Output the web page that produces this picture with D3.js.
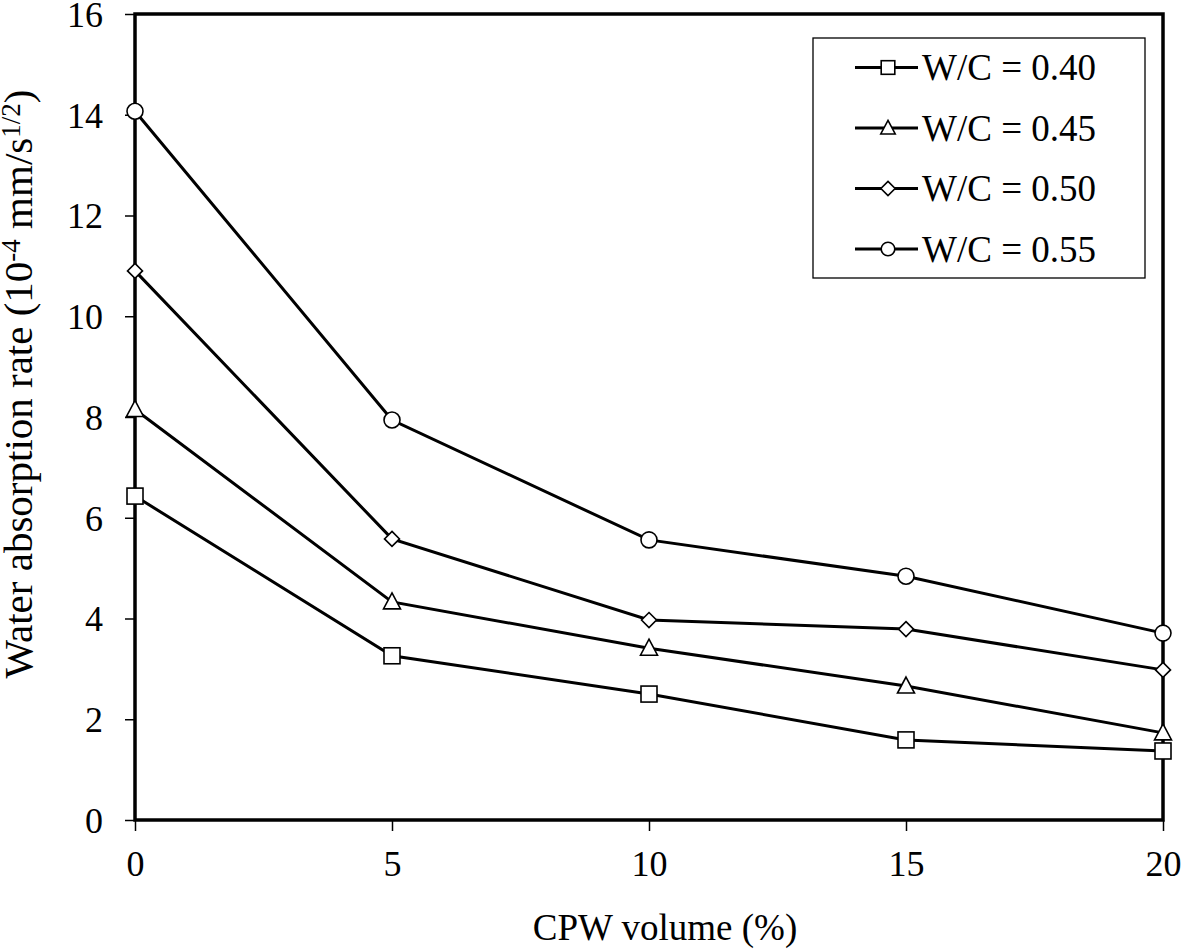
<!DOCTYPE html>
<html><head><meta charset="utf-8">
<script src="https://cdn.jsdelivr.net/npm/d3@7"></script>
<style>body{margin:0;background:#fff}svg{display:block}text{font-family:"Liberation Serif","Times New Roman",serif;fill:#000}</style>
</head><body>
<svg id="c" width="1181" height="949"></svg>
<script>
const cpwVolume = [0, 5, 10, 15, 20];
const seriesNames = ["W/C = 0.40", "W/C = 0.45", "W/C = 0.50", "W/C = 0.55"];
const wc040 = [6.43, 3.26, 2.50, 1.59, 1.37];
const wc045 = [8.15, 4.33, 3.41, 2.66, 1.73];
const wc050 = [10.90, 5.58, 3.97, 3.79, 2.98];
const wc055 = [14.07, 7.94, 5.56, 4.84, 3.71];
const markers = ["square", "triangle", "diamond", "circle"];
const xTicks = [0, 5, 10, 15, 20];
const yTicks = [0, 2, 4, 6, 8, 10, 12, 14, 16];

const series = [wc040, wc045, wc050, wc055].map((v, i) => ({name: seriesNames[i], values: v, marker: markers[i]}));

const svg = d3.select("#c");
const L = 135, R = 1163, T = 14, B = 820;
const x = d3.scaleLinear().domain([0, 20]).range([L, R]);
const y = d3.scaleLinear().domain([0, 16]).range([B, T]);

// axes ticks
const xAxis = svg.append("g").attr("transform", `translate(0,${B})`)
  .call(d3.axisBottom(x).tickValues(xTicks).tickSize(11).tickPadding(19));
const yAxis = svg.append("g").attr("transform", `translate(${L},0)`)
  .call(d3.axisLeft(y).tickValues(yTicks).tickSize(10).tickPadding(22));
[xAxis, yAxis].forEach(a => {
  a.attr("font-family", '"Liberation Serif", serif');
  a.select(".domain").remove();
  a.selectAll("line").attr("stroke", "#000").attr("stroke-width", 1.5);
  a.selectAll("text").style("font-size", "36px").style("font-family", '"Liberation Serif", serif').attr("fill", "#000");
});
yAxis.selectAll("text").attr("dy", "0.34em");

// frame
svg.append("rect").attr("x", L).attr("y", T).attr("width", R - L).attr("height", B - T)
  .attr("fill", "none").attr("stroke", "#000").attr("stroke-width", 3.5);

const line = d3.line().x((d, i) => x(cpwVolume[i])).y(d => y(d));

function drawMarker(g, type, cx, cy, s) {
  s = s || 1;
  if (type === "square") {
    g.append("rect").attr("x", cx - 8 * s).attr("y", cy - 8 * s).attr("width", 16 * s).attr("height", 16 * s)
      .attr("fill", "#fff").attr("stroke", "#000").attr("stroke-width", 1.6);
  } else if (type === "circle") {
    g.append("circle").attr("cx", cx).attr("cy", cy).attr("r", 8 * s)
      .attr("fill", "#fff").attr("stroke", "#000").attr("stroke-width", 1.6);
  } else if (type === "triangle") {
    g.append("path").attr("d", `M${cx},${cy - 9 * s}L${cx + 8.5 * s},${cy + 7 * s}L${cx - 8.5 * s},${cy + 7 * s}Z`)
      .attr("fill", "#fff").attr("stroke", "#000").attr("stroke-width", 1.6);
  } else if (type === "diamond") {
    g.append("path").attr("d", `M${cx},${cy - 7.5 * s}L${cx + 7.5 * s},${cy}L${cx},${cy + 7.5 * s}L${cx - 7.5 * s},${cy}Z`)
      .attr("fill", "#fff").attr("stroke", "#000").attr("stroke-width", 1.6);
  }
}

series.forEach(s => {
  svg.append("path").datum(s.values).attr("d", line).attr("fill", "none")
    .attr("stroke", "#000").attr("stroke-width", 3);
  const g = svg.append("g");
  s.values.forEach((v, i) => drawMarker(g, s.marker, x(cpwVolume[i]), y(v)));
});

// legend
const lg = svg.append("g");
lg.append("rect").attr("x", 813).attr("y", 38).attr("width", 332).attr("height", 240)
  .attr("fill", "#fff").attr("stroke", "#000").attr("stroke-width", 1.3);
series.forEach((s, i) => {
  const ly = 67.5 + i * 60.5;
  lg.append("line").attr("x1", 855).attr("x2", 918).attr("y1", ly).attr("y2", ly)
    .attr("stroke", "#000").attr("stroke-width", 3);
  drawMarker(lg, s.marker, 888, ly, s.marker === "diamond" ? 0.95 : 0.85);
  lg.append("text").attr("x", 922).attr("y", ly).attr("dy", "0.35em")
    .style("font-size", "37px").text(s.name);
});

// axis titles
svg.append("text").attr("x", 665).attr("y", 940).attr("text-anchor", "middle")
  .style("font-size", "37px").text("CPW volume (%)");
const yt = svg.append("text").attr("transform", "translate(32,384) rotate(-90)")
  .attr("text-anchor", "middle").style("font-size", "41px");
yt.append("tspan").text("Water absorption rate (10");
yt.append("tspan").attr("dy", "-12").style("font-size", "27px").text("-4");
yt.append("tspan").attr("dy", "12").text(" mm/s");
yt.append("tspan").attr("dy", "-12").style("font-size", "27px").text("1/2");
yt.append("tspan").attr("dy", "12").text(")");
</script>
</body></html>
